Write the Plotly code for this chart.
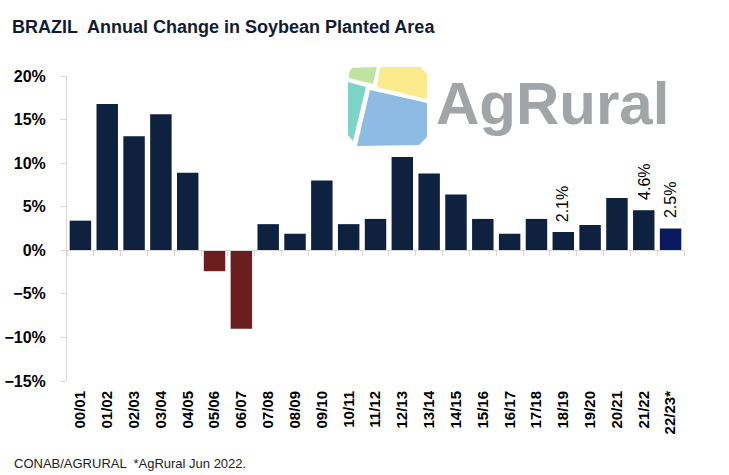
import plotly.graph_objects as go

seasons = ["00/01", "01/02", "02/03", "03/04", "04/05", "05/06", "06/07", "07/08",
           "08/09", "09/10", "10/11", "11/12", "12/13", "13/14", "14/15", "15/16",
           "16/17", "17/18", "18/19", "19/20", "20/21", "21/22", "22/23*"]
change_pct = [3.4, 16.8, 13.1, 15.6, 8.9, -2.4, -9.0, 3.0, 1.9, 8.0, 3.0, 3.6,
              10.7, 8.8, 6.4, 3.6, 1.9, 3.6, 2.1, 2.9, 6.0, 4.6, 2.5]
labelled = ["18/19", "21/22", "22/23*"]

NAVY = "#0E2240"
RED = "#6B1E1E"
LAST = "#0A1A5E"

colors = []
for s, v in zip(seasons, change_pct):
    if s == seasons[-1]:
        colors.append(LAST)
    elif v < 0:
        colors.append(RED)
    else:
        colors.append(NAVY)

# plot area in pixels
W, H = 729, 475
L, R, T, B = 67, 684, 76, 381
YMIN, YMAX = -15, 20
FONT = "Liberation Sans, Arial"

fig = go.Figure()
fig.add_trace(go.Bar(
    x=seasons, y=change_pct, marker=dict(color=colors, line=dict(width=0)),
    showlegend=False, hoverinfo="x+y",
))
fig.add_trace(go.Scatter(x=seasons, y=[None] * len(seasons), xaxis="x2",
                         mode="markers", showlegend=False, hoverinfo="skip"))

def px2paper(x, y):
    return (x - L) / (R - L), (B - y) / (B - T)

def path(points):
    pts = [px2paper(x, y) for x, y in points]
    return "M " + " L ".join(f"{a:.4f},{b:.4f}" for a, b in pts) + " Z"

shapes = []
logo_parts = [
    ("#BFE4A2", [(352, 68), (377, 67), (373, 84), (349, 78), (349, 72)]),
    ("#FBEA8C", [(380, 67), (420, 67), (427, 74), (427, 99), (377, 87)]),
    ("#7ED4C6", [(348, 82), (366, 87), (353, 141), (348, 135)]),
    ("#8DBBE2", [(370, 90), (427, 103), (427, 137), (419, 145), (357, 146)]),
]
for col, pts in logo_parts:
    shapes.append(dict(type="path", xref="paper", yref="paper", path=path(pts),
                       fillcolor=col, line=dict(width=0), layer="above"))

annotations = [
    dict(text="BRAZIL  Annual Change in Soybean Planted Area",
         xref="paper", yref="paper", x=(10 - L) / (R - L), y=(B - 27) / (B - T),
         xanchor="left", yanchor="middle", showarrow=False,
         font=dict(family=FONT, size=18, color="#101B33", weight="bold")),
    dict(text="CONAB/AGRURAL  *AgRural Jun 2022.",
         xref="paper", yref="paper", x=(12 - L) / (R - L), y=(B - 463) / (B - T),
         xanchor="left", yanchor="middle", showarrow=False,
         font=dict(family=FONT, size=13, color="#222222")),
    dict(text="AgRural",
         xref="paper", yref="paper", x=(434 - L) / (R - L), y=(B - 104) / (B - T),
         xanchor="left", yanchor="middle", showarrow=False,
         font=dict(family=FONT, size=60, color="#A2A5A8", weight="bold")),
]
for s, v in zip(seasons, change_pct):
    if s in labelled:
        annotations.append(dict(
            text=f"{v:.1f}%", x=s, y=v, xref="x", yref="y",
            xanchor="center", yanchor="bottom", textangle=-90, yshift=8,
            showarrow=False, font=dict(family=FONT, size=16, color="#000000")))

fig.update_layout(
    width=W, height=H,
    margin=dict(l=L, r=W - R, t=T, b=H - B, autoexpand=False),
    paper_bgcolor="white", plot_bgcolor="white",
    bargap=0.2,
    shapes=shapes, annotations=annotations,
    xaxis=dict(type="category", categoryorder="array", categoryarray=seasons,
               range=[-0.5, len(seasons) - 0.5], automargin=False,
               tickangle=-90, showline=False, ticks="", showgrid=False,
               zeroline=False,
               tickfont=dict(family=FONT, size=15, color="#000000", weight="bold"),
               ticklabelstandoff=6),
    xaxis2=dict(type="category", categoryorder="array", categoryarray=seasons,
                range=[-0.5, len(seasons) - 0.5], overlaying="x", anchor="free",
                position=(0 - YMIN) / (YMAX - YMIN), showticklabels=False,
                showline=True, linecolor="#D9D9D9", linewidth=1, automargin=False,
                ticks="outside", tickson="boundaries", ticklen=5,
                tickcolor="#D9D9D9", showgrid=False, zeroline=False),
    yaxis=dict(range=[YMIN, YMAX], dtick=5, ticksuffix="%", showgrid=False,
               zeroline=False, showline=True, linecolor="#D9D9D9", linewidth=1,
               ticks="outside", ticklen=6, tickcolor="#D9D9D9", automargin=False,
               tickfont=dict(family=FONT, size=16, color="#000000", weight="bold"),
               ticklabelstandoff=11),
)

fig.write_html("out.html", config={"displayModeBar": False},
               post_script="document.body.style.margin='0';")
